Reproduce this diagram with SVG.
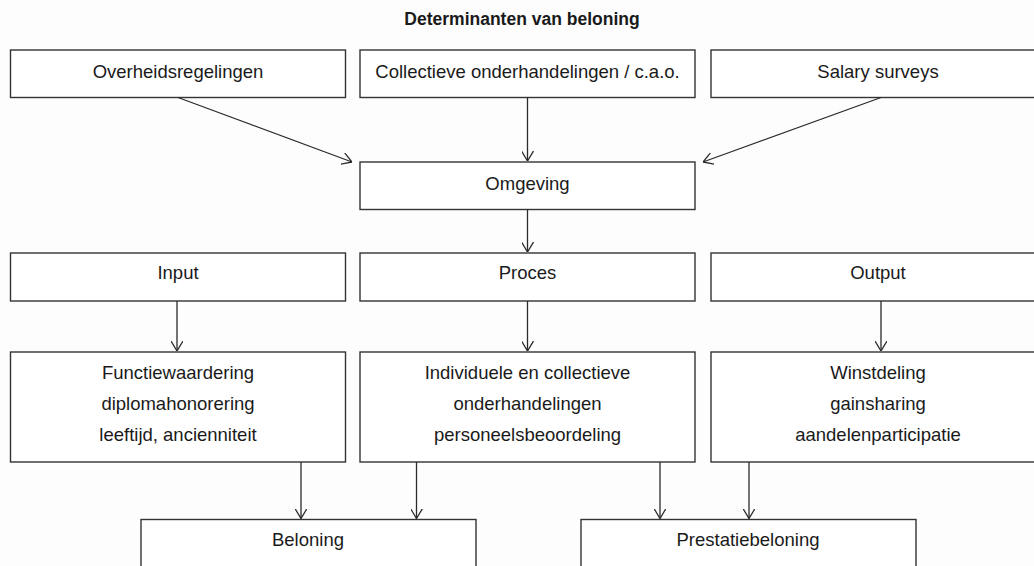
<svg xmlns="http://www.w3.org/2000/svg" width="1034" height="566" viewBox="0 0 1034 566">
  <defs>
    <marker id="open" viewBox="0 0 10 12" refX="10" refY="6" markerWidth="10" markerHeight="12" markerUnits="userSpaceOnUse" orient="auto">
      <path d="M0,0 L10,6 L0,12" fill="none" stroke="#2b2b2b" stroke-width="1.3"/>
    </marker>
  </defs>
  <style>
    .box { fill: #ffffff; stroke: #333333; stroke-width: 1.4; }
    .lbl { font-family: "Liberation Sans", Arial, sans-serif; font-size: 18.5px; fill: #1a1a1a; text-anchor: middle; }
    .title { font-family: "Liberation Sans", Arial, sans-serif; font-size: 17.5px; font-weight: bold; fill: #1a1a1a; text-anchor: middle; }
    .edge { stroke: #2b2b2b; stroke-width: 1.3; fill: none; marker-end: url(#open); }
  </style>
  <rect width="1034" height="566" fill="#fdfdfd"/>

  <text class="title" x="522" y="25">Determinanten van beloning</text>

  <g id="overheidsregelingen">
    <rect class="box" x="10.5" y="50" width="335" height="47.5"/>
    <text class="lbl" x="178" y="78">Overheidsregelingen</text>
  </g>
  <g id="cao">
    <rect class="box" x="360" y="50" width="335" height="47.5"/>
    <text class="lbl" x="527.5" y="78">Collectieve onderhandelingen / c.a.o.</text>
  </g>
  <g id="salary-surveys">
    <rect class="box" x="711" y="50" width="340" height="47.5"/>
    <text class="lbl" x="878" y="78">Salary surveys</text>
  </g>
  <g id="omgeving">
    <rect class="box" x="360" y="162" width="335" height="47.5"/>
    <text class="lbl" x="527.5" y="190">Omgeving</text>
  </g>

  <g id="input">
    <rect class="box" x="10.5" y="253" width="335" height="48"/>
    <text class="lbl" x="178" y="279">Input</text>
  </g>
  <g id="proces">
    <rect class="box" x="360" y="253" width="335" height="48"/>
    <text class="lbl" x="527.5" y="279">Proces</text>
  </g>
  <g id="output">
    <rect class="box" x="711" y="253" width="340" height="48"/>
    <text class="lbl" x="878" y="279">Output</text>
  </g>

  <g id="input-detail">
    <rect class="box" x="10.5" y="352" width="335" height="110"/>
    <text class="lbl" x="178" y="379">Functiewaardering</text>
    <text class="lbl" x="178" y="410">diplomahonorering</text>
    <text class="lbl" x="178" y="441">leeftijd, ancienniteit</text>
  </g>
  <g id="proces-detail">
    <rect class="box" x="360" y="352" width="335" height="110"/>
    <text class="lbl" x="527.5" y="379">Individuele en collectieve</text>
    <text class="lbl" x="527.5" y="410">onderhandelingen</text>
    <text class="lbl" x="527.5" y="441">personeelsbeoordeling</text>
  </g>
  <g id="output-detail">
    <rect class="box" x="711" y="352" width="340" height="110"/>
    <text class="lbl" x="878" y="379">Winstdeling</text>
    <text class="lbl" x="878" y="410">gainsharing</text>
    <text class="lbl" x="878" y="441">aandelenparticipatie</text>
  </g>

  <g id="beloning">
    <rect class="box" x="141" y="519.5" width="335" height="60"/>
    <text class="lbl" x="308" y="546">Beloning</text>
  </g>
  <g id="prestatiebeloning">
    <rect class="box" x="581" y="519.5" width="335" height="60"/>
    <text class="lbl" x="748" y="546">Prestatiebeloning</text>
  </g>

  <g id="connectors">
    <line class="edge" x1="178" y1="97.5" x2="352" y2="162"/>
    <line class="edge" x1="527.5" y1="97.5" x2="527.5" y2="161"/>
    <line class="edge" x1="881" y1="97.5" x2="703" y2="162"/>
    <line class="edge" x1="527.5" y1="209.5" x2="527.5" y2="252"/>
    <line class="edge" x1="177" y1="301" x2="177" y2="351"/>
    <line class="edge" x1="527.5" y1="301" x2="527.5" y2="351"/>
    <line class="edge" x1="881" y1="301" x2="881" y2="351"/>
    <line class="edge" x1="301" y1="462" x2="301" y2="518.5"/>
    <line class="edge" x1="416.5" y1="462" x2="416.5" y2="518.5"/>
    <line class="edge" x1="660" y1="462" x2="660" y2="518.5"/>
    <line class="edge" x1="749" y1="462" x2="749" y2="518.5"/>
  </g>
</svg>
